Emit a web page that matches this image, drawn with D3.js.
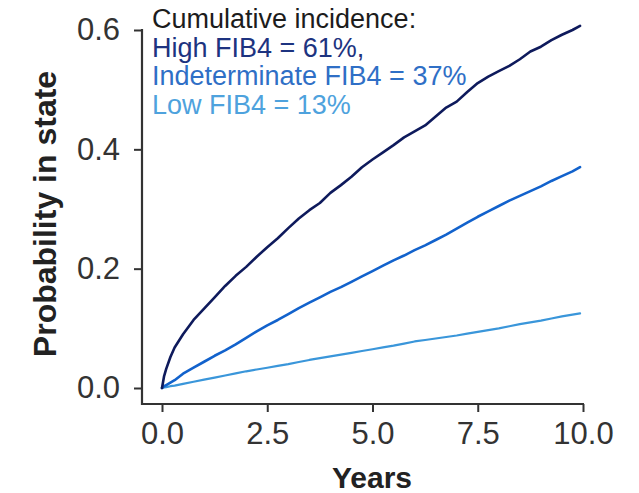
<!DOCTYPE html>
<html>
<head>
<meta charset="utf-8">
<script src="https://cdn.jsdelivr.net/npm/d3@7/dist/d3.min.js"></script>
<style>
  html, body { margin: 0; padding: 0; background: #ffffff; }
  svg { display: block; font-family: "Liberation Sans", Arial, Helvetica, sans-serif; }
</style>
</head>
<body>
<svg id="chart" width="639" height="493"></svg>
<script>
// Cumulative incidence by FIB4 group (years of follow-up vs probability in state)
const years = [0, 0.05, 0.1, 0.2, 0.3, 0.5, 0.75, 1.0, 1.25, 1.5, 1.75, 2.0, 2.25, 2.5, 2.75, 3.0, 3.25, 3.5, 3.75, 4.0,
  4.25, 4.5, 4.75, 5.0, 5.25, 5.5, 5.75, 6.0, 6.25, 6.5, 6.75, 7.0, 7.25, 7.5, 7.75, 8.0, 8.25, 8.5, 8.75, 9.0,
  9.25, 9.5, 9.75, 9.93];

const highFib4 = [0, 0.02, 0.032, 0.052, 0.068, 0.09, 0.114, 0.133, 0.152, 0.171, 0.188, 0.203, 0.22, 0.236, 0.251,
  0.268, 0.284, 0.298, 0.31, 0.327, 0.34, 0.354, 0.37, 0.383, 0.395, 0.407, 0.42, 0.43, 0.44, 0.455, 0.47, 0.48,
  0.496, 0.511, 0.522, 0.531, 0.54, 0.551, 0.564, 0.572, 0.583, 0.592, 0.6, 0.607];

const indeterminateFib4 = [0, 0.003, 0.005, 0.009, 0.013, 0.024, 0.034, 0.044, 0.054, 0.063, 0.073, 0.084, 0.095,
  0.105, 0.114, 0.124, 0.134, 0.143, 0.152, 0.161, 0.169, 0.178, 0.187, 0.196, 0.205, 0.214, 0.222, 0.231, 0.239,
  0.248, 0.257, 0.267, 0.277, 0.287, 0.296, 0.305, 0.314, 0.322, 0.33, 0.338, 0.347, 0.355, 0.363, 0.37];

const lowFib4 = [0, 0.001, 0.0015, 0.003, 0.004, 0.007, 0.0105, 0.014, 0.0175, 0.021, 0.0245, 0.028, 0.031, 0.034,
  0.037, 0.04, 0.0435, 0.047, 0.05, 0.053, 0.056, 0.059, 0.062, 0.065, 0.068, 0.071, 0.0745, 0.078, 0.0805, 0.083,
  0.0855, 0.088, 0.091, 0.094, 0.097, 0.1, 0.1035, 0.107, 0.11, 0.113, 0.1165, 0.12, 0.123, 0.125];

const xTicks = [0, 2.5, 5, 7.5, 10];
const yTicks = [0, 0.2, 0.4, 0.6];

const legendLines = [
  { text: "Cumulative incidence:", color: "#1c1c1c" },
  { text: "High FIB4 = 61%,", color: "#1d3380" },
  { text: "Indeterminate FIB4 = 37%", color: "#2f6fc6" },
  { text: "Low FIB4 = 13%", color: "#4ea2dd" }
];

const seriesList = [
  { name: "Low FIB4", values: lowFib4, color: "#3a96da", width: 2.2 },
  { name: "Indeterminate FIB4", values: indeterminateFib4, color: "#1262cc", width: 2.6 },
  { name: "High FIB4", values: highFib4, color: "#0e1a5c", width: 2.6 }
];

const svg = d3.select("#chart");

const x = d3.scaleLinear().domain([0, 10]).range([162, 583]);
const y = d3.scaleLinear().domain([0, 0.6]).range([388, 30]);

const axisX = 142;   // position of the vertical axis line
const axisY = 404;   // position of the horizontal axis line
const axisColor = "#333333";

// y axis
const gy = svg.append("g")
  .attr("transform", `translate(${axisX},0)`)
  .call(d3.axisLeft(y).tickValues(yTicks).tickFormat(d3.format(".1f")).tickSize(8).tickPadding(14));
gy.select(".domain").remove();
gy.selectAll(".tick line").attr("stroke", axisColor).attr("stroke-width", 2);
gy.selectAll(".tick text").attr("fill", axisColor).attr("font-size", 31)
  .attr("font-family", "'Liberation Sans', Arial, sans-serif");

// x axis
const gx = svg.append("g")
  .attr("transform", `translate(0,${axisY})`)
  .call(d3.axisBottom(x).tickValues(xTicks).tickFormat(d3.format(".1f")).tickSize(8).tickPadding(10));
gx.select(".domain").remove();
gx.selectAll(".tick line").attr("stroke", axisColor).attr("stroke-width", 2);
gx.selectAll(".tick text").attr("fill", axisColor).attr("font-size", 31)
  .attr("font-family", "'Liberation Sans', Arial, sans-serif");

// axis lines
svg.append("line")
  .attr("x1", axisX).attr("x2", axisX)
  .attr("y1", y(0.6) - 1).attr("y2", axisY + 1)
  .attr("stroke", axisColor).attr("stroke-width", 2.2);
svg.append("line")
  .attr("x1", axisX - 1).attr("x2", x(10) + 1)
  .attr("y1", axisY).attr("y2", axisY)
  .attr("stroke", axisColor).attr("stroke-width", 2.2);

// axis titles
svg.append("text")
  .attr("x", 372).attr("y", 488)
  .attr("text-anchor", "middle")
  .attr("font-size", 30).attr("font-weight", "bold").attr("fill", "#222222")
  .text("Years");

svg.append("text")
  .attr("transform", "translate(56,214) rotate(-90)")
  .attr("text-anchor", "middle")
  .attr("font-size", 32).attr("font-weight", "bold").attr("fill", "#222222")
  .text("Probability in state");

// curves
const line = d3.line()
  .x((d, i) => x(years[i]))
  .y(d => y(d))
  .curve(d3.curveLinear);

svg.append("g").selectAll("path")
  .data(seriesList)
  .join("path")
  .attr("d", s => line(s.values))
  .attr("fill", "none")
  .attr("stroke", s => s.color)
  .attr("stroke-width", s => s.width)
  .attr("stroke-linejoin", "round")
  .attr("stroke-linecap", "round");

// legend text
svg.append("g").selectAll("text")
  .data(legendLines)
  .join("text")
  .attr("x", 152)
  .attr("y", (d, i) => 28 + i * 28.5)
  .attr("font-size", 27)
  .attr("fill", d => d.color)
  .text(d => d.text);
</script>
</body>
</html>
